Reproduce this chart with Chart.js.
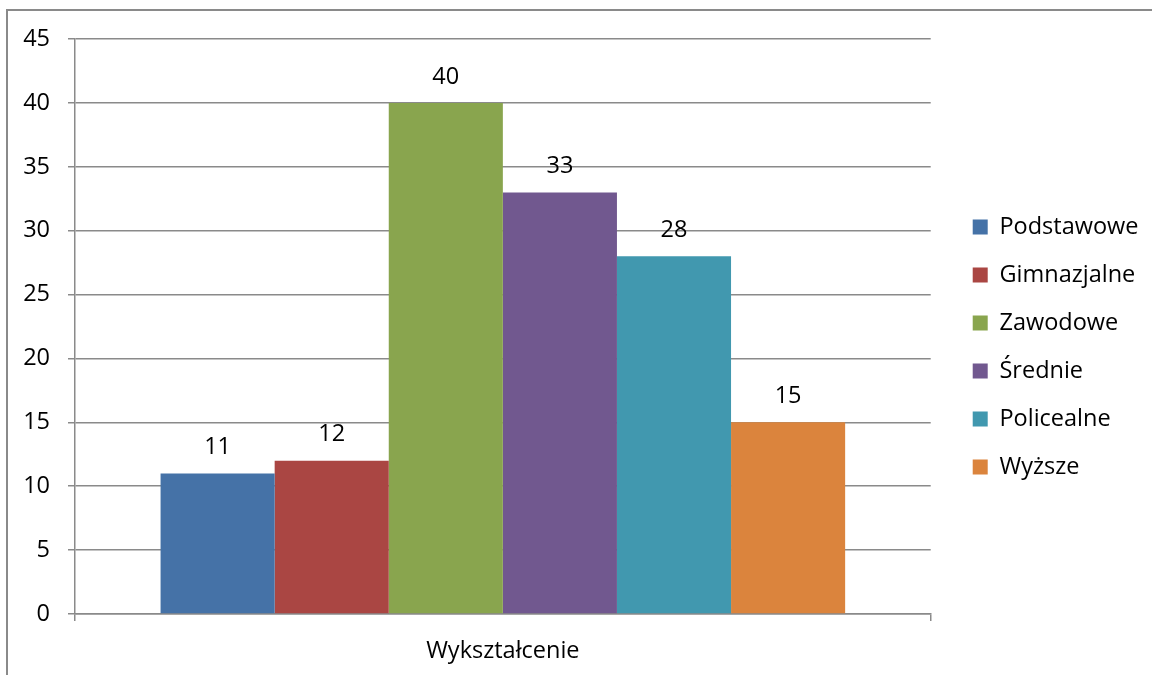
<!DOCTYPE html>
<html>
<head>
<meta charset="utf-8">
<script src="https://cdn.jsdelivr.net/npm/chart.js@4.4.1/dist/chart.umd.min.js"></script>
<style>
  html, body { margin: 0; padding: 0; background: #ffffff; overflow: hidden; }
  #frame { position: absolute; left: 6px; top: 9px; width: 1300px; height: 800px; border: 2px solid #8a8a8a; box-sizing: border-box; }
  #c { position: absolute; left: 8px; top: 7px; }
</style>
</head>
<body>
<div id="frame"></div>
<canvas id="c" width="1144" height="668"></canvas>
<script>
const categories = ['Wykształcenie'];
const seriesNames = ['Podstawowe', 'Gimnazjalne', 'Zawodowe', 'Średnie', 'Policealne', 'Wyższe'];
const seriesValues = [[11], [12], [40], [33], [28], [15]];
const seriesColors = ['#4572A7', '#AA4643', '#89A54E', '#71588F', '#4198AF', '#DB843D'];
const yTicks = [0, 5, 10, 15, 20, 25, 30, 35, 40, 45];

const FONT = { family: '"Open Sans", sans-serif', size: 23.5 };
const GRID = '#8a8a8a';

const valueLabels = {
  id: 'valueLabels',
  afterDatasetsDraw(chart) {
    const ctx = chart.ctx;
    ctx.save();
    ctx.font = FONT.size + 'px ' + FONT.family;
    ctx.fillStyle = '#000';
    ctx.textAlign = 'center';
    ctx.textBaseline = 'middle';
    chart.data.datasets.forEach((ds, i) => {
      const meta = chart.getDatasetMeta(i);
      meta.data.forEach((bar, j) => {
        ctx.fillText(String(ds.data[j]), bar.x, bar.y - 26);
      });
    });
    ctx.restore();
  }
};

new Chart(document.getElementById('c'), {
  type: 'bar',
  data: {
    labels: categories,
    datasets: seriesNames.map((name, i) => ({
      label: name,
      data: seriesValues[i],
      backgroundColor: seriesColors[i],
      borderWidth: 0,
      categoryPercentage: 0.8,
      barPercentage: 1.0
    }))
  },
  options: {
    responsive: false,
    animation: false,
    layout: { padding: { top: 12, left: 0, right: 3.5, bottom: 0 } },
    plugins: {
      legend: {
        position: 'right',
        maxWidth: 208,
        labels: {
          font: FONT,
          color: '#000',
          boxWidth: 15,
          boxHeight: 15,
          padding: 24.5
        }
      },
      tooltip: { enabled: false },
      title: { display: false }
    },
    scales: {
      x: {
        grid: { display: true, drawOnChartArea: false, drawTicks: true, tickLength: 7, color: GRID, lineWidth: 1.5, offset: true },
        border: { display: true, color: GRID, width: 1.5 },
        ticks: { font: FONT, color: '#000', padding: 16 },
        afterFit(scale) { scale.height = 61; }
      },
      y: {
        min: 0,
        max: 45,
        afterBuildTicks(scale) { scale.ticks = yTicks.map(v => ({ value: v })); },
        grid: { color: GRID, lineWidth: 1.5, tickLength: 7 },
        border: { display: true, color: GRID, width: 1.5 },
        ticks: { font: FONT, color: '#000', padding: 18 },
        afterFit(scale) { scale.width = 67; }
      },
      spacer: {
        position: 'right',
        display: true,
        grid: { display: false },
        border: { display: false },
        ticks: { display: false },
        afterFit(scale) { scale.width = 17.5; }
      }
    }
  },
  plugins: [valueLabels]
});
</script>
</body>
</html>
